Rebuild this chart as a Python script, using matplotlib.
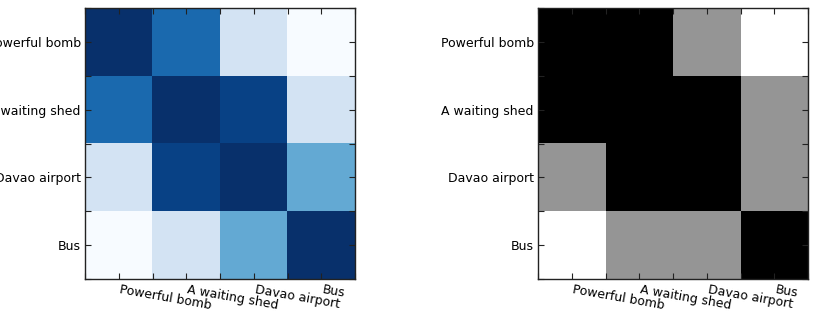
import numpy as np
from matplotlib import pyplot as plt
from matplotlib.ticker import FixedLocator

labels = ['Powerful bomb', 'A waiting shed', 'Davao airport', 'Bus']

# similarity scores (left panel, Blues)
similarity = np.array([
    [1.00, 0.78, 0.18, 0.00],
    [0.78, 1.00, 0.93, 0.18],
    [0.18, 0.93, 1.00, 0.52],
    [0.00, 0.18, 0.52, 1.00],
])

# thresholded classes (right panel, Greys): 0 = low, 1 = mid, 2 = high
classes = np.array([
    [2, 2, 1, 0],
    [2, 2, 2, 1],
    [1, 2, 2, 1],
    [0, 1, 1, 2],
])

fig = plt.figure(figsize=(8.13, 3.14), dpi=100)
ax1 = fig.add_axes([85/813, 35/314, 270/813, 271/314])
ax2 = fig.add_axes([538/813, 35/314, 270/813, 271/314])


def style(ax, data, cmap):
    ax.imshow(data, cmap=cmap, interpolation='nearest', aspect='auto')
    n = len(labels)
    ax.set_xlim(-0.5, n - 0.5)
    ax.set_ylim(n - 0.5, -0.5)
    ax.set_xticks(range(n))
    ax.set_yticks(range(n))
    ax.xaxis.set_minor_locator(FixedLocator(np.arange(-0.5, n, 1.0)))
    ax.yaxis.set_minor_locator(FixedLocator(np.arange(-0.5, n, 1.0)))
    ax.set_xticklabels(labels, rotation=-10, ha='left', fontsize=9)
    ax.set_yticklabels(labels, fontsize=9)
    ax.tick_params(which='both', direction='in', length=4, width=0.8,
                   top=True, right=True, color='#222222', pad=3)
    for s in ax.spines.values():
        s.set_linewidth(1.0)
        s.set_color('#222222')


style(ax1, similarity, 'Blues')
style(ax2, classes, 'Greys')

plt.savefig('out.png', dpi=100)
